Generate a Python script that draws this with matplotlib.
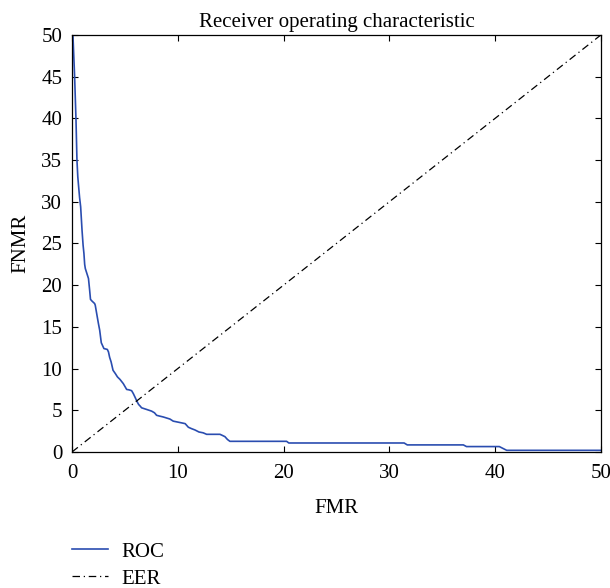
import numpy as np
import matplotlib
matplotlib.use("Agg")
import matplotlib.pyplot as plt

plt.rcParams['font.family'] = ['Liberation Serif', 'DejaVu Serif']

# ROC curve samples (FMR %, FNMR %)
fmr = [0.0, 0.09, 0.25, 0.38, 0.47, 0.55, 0.63, 0.72, 0.82, 0.95, 1.05, 1.13,
       1.2, 1.26, 1.51, 1.56, 1.67, 1.75, 1.89, 2.14, 2.2, 2.39, 2.5, 2.62,
       2.77, 3.02, 3.34, 3.45, 3.56, 3.7, 3.88, 4.1, 4.3, 4.54, 4.85, 5.17,
       5.4, 5.64, 5.8, 5.95, 6.17, 6.3, 6.45, 6.58, 7.06, 7.53, 7.8, 8.0,
       8.3, 8.63, 9.26, 9.57, 10.52, 10.7, 11.0, 11.3, 11.63, 12.0, 12.4,
       12.73, 13.99, 14.2, 14.46, 14.7, 14.93, 20.29, 20.5, 31.4, 31.7, 37.0,
       37.3, 40.4, 41.1, 50.0]
fnmr = [51, 50.0, 45.0, 39.8, 35.0, 33.0, 31.8, 30.5, 29.4, 26.6, 24.8, 23.8,
        22.5, 22.0, 21.0, 20.8, 19.4, 18.3, 18.1, 17.8, 17.6, 16.2, 15.4, 14.6,
        13.1, 12.4, 12.3, 12.0, 11.35, 10.8, 9.8, 9.4, 9.0, 8.7, 8.2, 7.5,
        7.45, 7.35, 7.0, 6.6, 6.0, 5.7, 5.5, 5.3, 5.1, 4.9, 4.7, 4.4,
        4.3, 4.2, 3.95, 3.7, 3.45, 3.4, 2.97, 2.8, 2.64, 2.4, 2.3,
        2.12, 2.12, 2.0, 1.84, 1.5, 1.28, 1.28, 1.08, 1.08, 0.85, 0.85,
        0.65, 0.65, 0.2, 0.2]

# equal error rate reference line
eer = [0, 50]

fig = plt.figure(figsize=(6.10, 5.88), dpi=100)
ax = fig.add_axes([0.118, 0.2313, 0.867, 0.7092])

ax.plot(fmr, fnmr, color='#2a4db0', lw=1.2, label='ROC')
ax.plot(eer, eer, color='black', lw=0.9, linestyle=(0, (6, 3, 1, 3)), label='EER')

ax.set_xlim(0, 50)
ax.set_ylim(0, 50)
ax.set_xticks(np.arange(0, 51, 10))
ax.set_yticks(np.arange(0, 51, 5))
ax.tick_params(direction='in', top=True, right=True, length=4, width=0.8,
               labelsize=15)
ax.tick_params(axis='x', pad=9)
ax.tick_params(axis='y', pad=7)
for s in ax.spines.values():
    s.set_linewidth(0.9)

# title sits just above the frame, centred on the axes
ax.text(0.5, 1.008, 'Receiver operating characteristic', transform=ax.transAxes,
        ha='center', va='bottom', fontsize=15)
ax.set_xlabel('FMR', fontsize=15, labelpad=11)
ax.set_ylabel('FNMR', fontsize=15, labelpad=8)

fig.legend(loc='upper left', bbox_to_anchor=(0.087, 0.11), frameon=False,
           fontsize=15, handlelength=1.75, handletextpad=0.65, labelspacing=0.35)

fig.savefig('out.png', dpi=100)
